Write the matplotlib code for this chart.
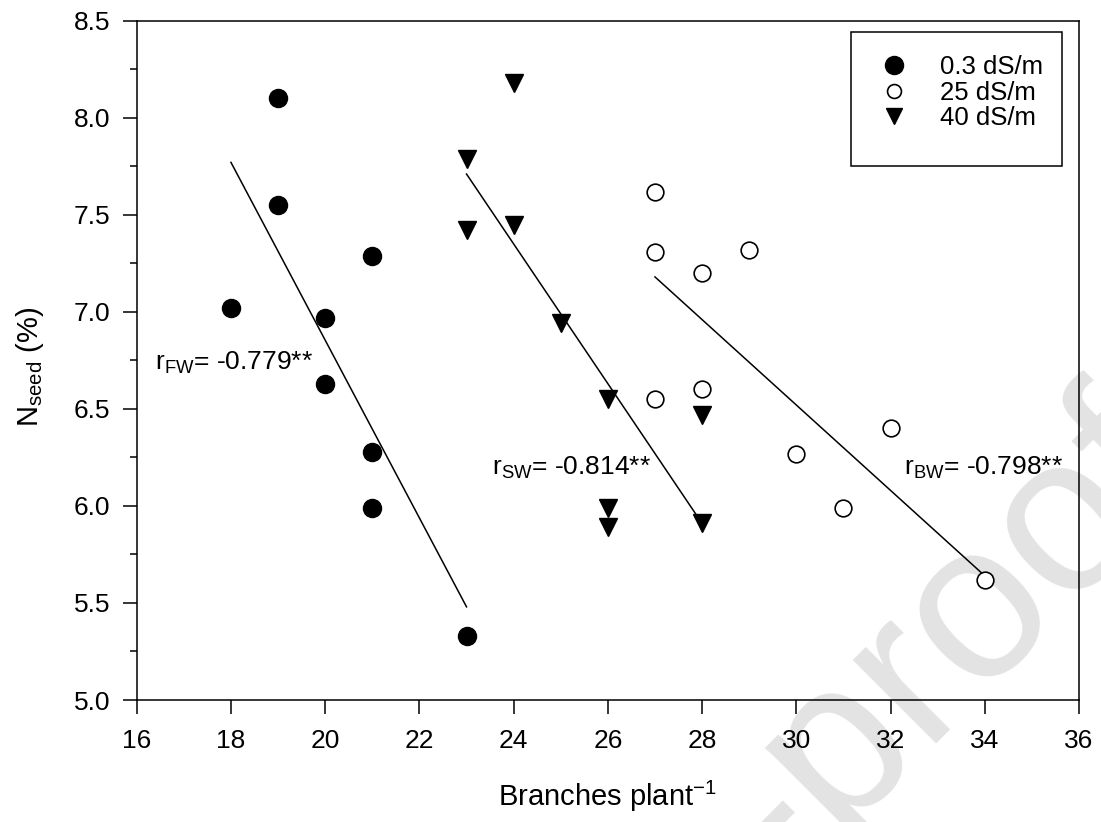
import matplotlib
matplotlib.use("Agg")
import matplotlib.pyplot as plt
from matplotlib.lines import Line2D
from matplotlib.patches import Rectangle
from matplotlib.ticker import MultipleLocator

plt.rcParams['font.family'] = ['Liberation Sans', 'DejaVu Sans']

# 0.3 dS/m (filled circles)
x_03 = [18, 19, 19, 20, 20, 21, 21, 21, 23]
y_03 = [7.02, 8.10, 7.55, 6.97, 6.63, 7.29, 6.28, 5.99, 5.33]

# 25 dS/m (open circles)
x_25 = [27, 27, 27, 28, 28, 29, 30, 31, 32, 34]
y_25 = [7.62, 7.31, 6.55, 7.20, 6.60, 7.32, 6.27, 5.99, 6.40, 5.62]

# 40 dS/m (filled down triangles)
x_40 = [23, 23, 24, 24, 25, 26, 26, 26, 28, 28]
y_40 = [7.79, 7.42, 8.18, 7.45, 6.94, 6.55, 5.99, 5.89, 6.47, 5.91]

# fitted lines (end points)
fit_fw_x = [18, 23]
fit_fw_y = [7.77, 5.48]
fit_sw_x = [23, 28]
fit_sw_y = [7.71, 5.91]
fit_bw_x = [27, 34]
fit_bw_y = [7.18, 5.64]

labels = ['0.3 dS/m', '25 dS/m', '40 dS/m']

fig = plt.figure(figsize=(11.01, 8.22), dpi=100)
ax = fig.add_axes([0.1242, 0.1484, 0.8558, 0.8264])
ax.set_zorder(1)
ax.set_facecolor('none')

# watermark, behind the axes
fig.text(1.087, 0.412, 'Journal Pre-proof', fontsize=160, color='#e3e3e3',
         rotation=45, rotation_mode='anchor', ha='right', va='baseline',
         zorder=0)

ax.plot(fit_fw_x, fit_fw_y, color='black', lw=1.1, zorder=2)
ax.plot(fit_sw_x, fit_sw_y, color='black', lw=1.1, zorder=2)
ax.plot(fit_bw_x, fit_bw_y, color='black', lw=1.1, zorder=2)

ax.plot(x_03, y_03, 'o', ms=13, color='black', ls='none', zorder=3)
ax.plot(x_25, y_25, 'o', ms=12, mfc='white', mec='black', mew=1.2, ls='none', zorder=3)
ax.plot(x_40, y_40, 'v', ms=13, color='black', ls='none', zorder=3)

ax.text(16.39, 6.70, r'$\mathregular{r_{FW}}$= -0.779**', fontsize=19, va='baseline')
ax.text(23.54, 6.16, r'$\mathregular{r_{SW}}$= -0.814**', fontsize=19, va='baseline')
ax.text(32.28, 6.16, r'$\mathregular{r_{BW}}$= -0.798**', fontsize=19, va='baseline')

ax.set_xlim(16, 36)
ax.set_ylim(5.0, 8.5)
ax.xaxis.set_major_locator(MultipleLocator(2))
ax.yaxis.set_major_locator(MultipleLocator(0.5))
ax.yaxis.set_minor_locator(MultipleLocator(0.25))
ax.yaxis.set_major_formatter(matplotlib.ticker.FormatStrFormatter('%.1f'))

ax.tick_params(axis='both', which='major', direction='out', length=10, width=1.1,
               labelsize=19, top=False, right=False)
ax.tick_params(axis='y', which='major', pad=9)
ax.tick_params(axis='x', which='major', pad=11)
ax.tick_params(axis='y', which='minor', direction='out', length=5, width=1.1)
for s in ax.spines.values():
    s.set_linewidth(1.1)

ax.set_xlabel(r'Branches plant$^{\mathregular{-1}}$', fontsize=21)
ax.set_ylabel(r'N$_{\mathregular{seed}}$ (%)', fontsize=21)
ax.xaxis.set_label_coords(0.5, -0.116)
ax.yaxis.set_label_coords(-0.096, 0.49)

# legend with a square frame
ax.add_patch(Rectangle((0.758, 0.786), 0.224, 0.197, transform=ax.transAxes,
                       fill=False, edgecolor='black', lw=1.1, zorder=4))
handles = [
    Line2D([], [], marker='o', ms=13, color='black', ls='none'),
    Line2D([], [], marker='o', ms=10, mfc='white', mec='black', mew=1.2, ls='none'),
    Line2D([], [], marker='v', ms=12, color='black', ls='none'),
]
ax.legend(handles, labels, loc='upper left', bbox_to_anchor=(0.790, 0.949),
          frameon=False, fontsize=18.5, borderpad=0, borderaxespad=0,
          handlelength=1.0, handletextpad=1.3, labelspacing=0.05)

fig.savefig('out.png', dpi=100)
